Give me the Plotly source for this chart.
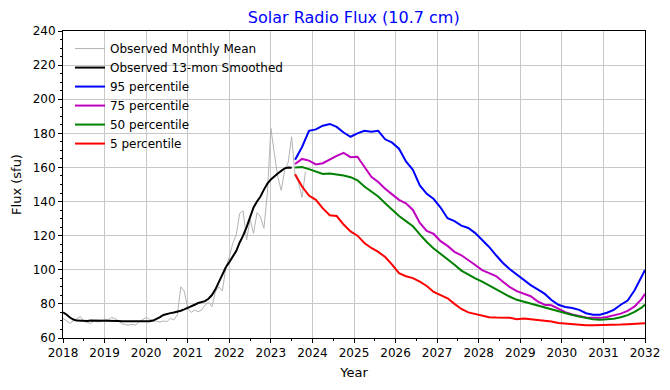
import plotly.graph_objects as go

# ---------------- data ----------------
obs_start_year = 2018  # first month: Jan 2018
obs_monthly = [
    71.5, 70.0, 68.6, 70.0, 71.5, 72.6, 69.8, 69.2, 68.6, 70.0, 69.4, 69.7,   # 2018
    71.0, 70.6, 72.0, 71.5, 70.0, 68.4, 67.8, 67.6, 68.0, 67.6, 69.6, 70.8,   # 2019
    72.0, 71.0, 70.0, 69.8, 69.4, 70.0, 69.6, 71.5, 70.6, 73.5, 90.0, 87.5,   # 2020
    77.5, 75.0, 76.4, 75.4, 76.4, 79.3, 81.0, 78.4, 87.2, 90.0, 87.5, 101.0,  # 2021
    107.5, 115.5, 120.5, 133.0, 134.5, 117.5, 129.5, 121.4, 133.5, 131.0, 124.3, 145.0,  # 2022
    183.0, 168.3, 154.6, 146.5, 158.5, 163.0, 178.0, 155.0, 151.0, 142.5, 157.5,  # 2023
]
obs_smoothed = [
    75.0, 73.8, 72.0, 70.8, 70.2, 70.0, 70.0, 70.0, 70.2, 70.2, 70.4, 70.4,   # 2018
    70.4, 70.2, 70.0, 70.2, 70.0, 69.8, 69.8, 69.8, 69.6, 69.6, 69.6, 69.6,   # 2019
    69.6, 69.8, 70.2, 71.0, 72.2, 73.5, 74.2, 74.6, 75.0, 75.4, 76.0, 76.8,   # 2020
    77.6, 78.5, 79.5, 80.5, 81.0, 81.6, 83.0, 85.2, 88.5, 93.0, 97.5, 101.5,  # 2021
    104.5, 107.5, 111.0, 116.0, 120.0, 125.0, 131.0, 136.5, 140.0, 143.0, 147.0, 150.5,  # 2022
    153.0, 155.0, 156.5, 158.0, 159.5, 160.0, 159.8,  # 2023
]

pred_x = [
    2023.583, 2023.750, 2023.917, 2024.083, 2024.250, 2024.417, 2024.583, 2024.750,
    2024.917, 2025.083, 2025.250, 2025.417, 2025.583, 2025.750, 2025.917, 2026.083,
    2026.250, 2026.417, 2026.583, 2026.750, 2026.917, 2027.083, 2027.250, 2027.417,
    2027.583, 2027.750, 2027.917, 2028.083, 2028.250, 2028.417, 2028.583, 2028.750,
    2028.917, 2029.083, 2029.250, 2029.417, 2029.583, 2029.750, 2029.917, 2030.083,
    2030.250, 2030.417, 2030.583, 2030.750, 2030.917, 2031.083, 2031.250, 2031.417,
    2031.583, 2031.750, 2031.917, 2032.000,
]
p95 = [
    164.5, 172.0, 181.5, 182.3, 184.5, 185.5, 183.8, 180.5, 178.0, 180.0, 181.5, 181.0,
    181.5, 176.5, 174.5, 171.0, 163.5, 158.6, 149.5, 144.5, 141.5, 136.5, 130.2, 128.5,
    125.9, 124.5, 121.5, 117.5, 113.4, 108.5, 104.0, 100.3, 97.0, 94.0, 91.0, 88.5,
    86.0, 82.3, 79.5, 78.2, 77.6, 76.5, 74.5, 73.7, 73.7, 74.8, 76.5, 79.5,
    82.0, 88.0, 95.6, 99.9,
]
p75 = [
    162.0, 165.0, 164.0, 161.8, 162.5, 164.7, 166.8, 168.5, 166.0, 166.3, 160.0, 154.5,
    151.5, 147.5, 144.2, 141.0, 139.0, 135.1, 127.5, 122.8, 121.0, 116.8, 114.0, 110.5,
    108.5, 105.8, 102.8, 99.8, 98.0, 96.3, 93.0, 89.8, 87.5, 86.0, 84.5, 81.5,
    79.5, 79.2, 77.2, 75.2, 73.8, 72.7, 72.0, 71.8, 71.8, 72.3, 73.2, 74.3,
    75.9, 78.5, 82.8, 85.9,
]
p50 = [
    160.0, 160.2, 159.0, 157.6, 156.2, 156.5, 156.1, 155.3, 154.3, 152.5, 148.8, 145.8,
    143.0, 139.0, 135.0, 131.5, 128.5, 125.5, 120.8, 116.3, 112.5, 109.4, 106.5, 103.0,
    99.5, 97.0, 95.0, 93.0, 90.8, 88.3, 86.2, 84.2, 82.4, 81.3, 80.0, 79.0,
    77.7, 76.5, 75.5, 74.4, 73.5, 72.6, 71.8, 71.0, 70.7, 70.8, 71.3, 72.2,
    73.4, 75.3, 77.8, 79.6,
]
p05 = [
    156.0, 148.8, 143.5, 141.0, 136.0, 132.0, 131.5, 126.5, 122.5, 120.0, 115.7, 112.8,
    110.5, 107.5, 103.0, 98.0, 96.2, 95.1, 93.0, 90.5, 87.0, 85.0, 83.3, 80.0,
    77.0, 75.0, 74.0, 73.0, 72.2, 72.0, 71.8, 71.8, 71.0, 71.5, 71.0, 70.6,
    70.2, 69.7, 68.8, 68.4, 68.0, 67.8, 67.5, 67.5, 67.5, 67.6, 67.7, 67.9,
    68.1, 68.3, 68.5, 68.6,
]

x_ticks = list(range(2018, 2033))
y_ticks = list(range(60, 241, 20))

# month positions as decimal years
obs_x = [obs_start_year + i / 12 for i in range(len(obs_monthly))]
smooth_x = [obs_start_year + i / 12 for i in range(len(obs_smoothed))]

FONT = "DejaVu Sans"

fig = go.Figure()
fig.add_trace(go.Scatter(x=obs_x, y=obs_monthly, mode="lines",
                         line=dict(color="#b3b3b3", width=1),
                         name="Observed Monthly Mean"))
fig.add_trace(go.Scatter(x=smooth_x, y=obs_smoothed, mode="lines",
                         line=dict(color="black", width=2),
                         name="Observed 13-mon Smoothed"))
for vals, col, nm in [(p95, "#0000ff", "95 percentile"),
                      (p75, "#bf00bf", "75 percentile"),
                      (p50, "#008000", "50 percentile"),
                      (p05, "#ff0000", "5 percentile")]:
    fig.add_trace(go.Scatter(x=pred_x, y=vals, mode="lines",
                             line=dict(color=col, width=2), name=nm))

axis_common = dict(
    showline=True, linecolor="black", linewidth=1, mirror=True,
    ticks="outside", ticklen=4, tickcolor="black",
    showgrid=True, gridcolor="#c8c8c8", gridwidth=1,
    zeroline=False, automargin=False,
    tickfont=dict(family=FONT, size=12, color="black"),
)

fig.update_layout(
    width=670, height=390,
    margin=dict(l=63, r=25, t=31, b=52),
    paper_bgcolor="white", plot_bgcolor="white",
    font=dict(family=FONT, size=12, color="black"),
    title=dict(text="Solar Radio Flux (10.7 cm)", x=0.528, xanchor="center",
               y=0.955, yanchor="middle",
               font=dict(family=FONT, size=16, color="#0000ff")),
    xaxis=dict(range=[2018, 2032], tickvals=x_ticks,
               ticktext=[str(t) for t in x_ticks],
               minor=dict(dtick=0.5, tick0=2018, ticks="outside", ticklen=2,
                          tickcolor="black", showgrid=False),
               title=dict(text="Year", font=dict(family=FONT, size=13), standoff=8),
               **axis_common),
    yaxis=dict(range=[60, 240], tickvals=y_ticks,
               minor=dict(dtick=5, tick0=60, ticks="outside", ticklen=2,
                          tickcolor="black", showgrid=False),
               title=dict(text="Flux (sfu)", font=dict(family=FONT, size=13), standoff=8),
               **axis_common),
    legend=dict(x=0.012, y=0.99, xanchor="left", yanchor="top",
                bgcolor="rgba(0,0,0,0)", borderwidth=0,
                font=dict(family=FONT, size=12), tracegroupgap=0,
                itemwidth=30),
    showlegend=True,
)

fig.write_html("out.html",
               config={"displayModeBar": False},
               post_script="document.body.style.margin='0';document.body.style.padding='0';")
